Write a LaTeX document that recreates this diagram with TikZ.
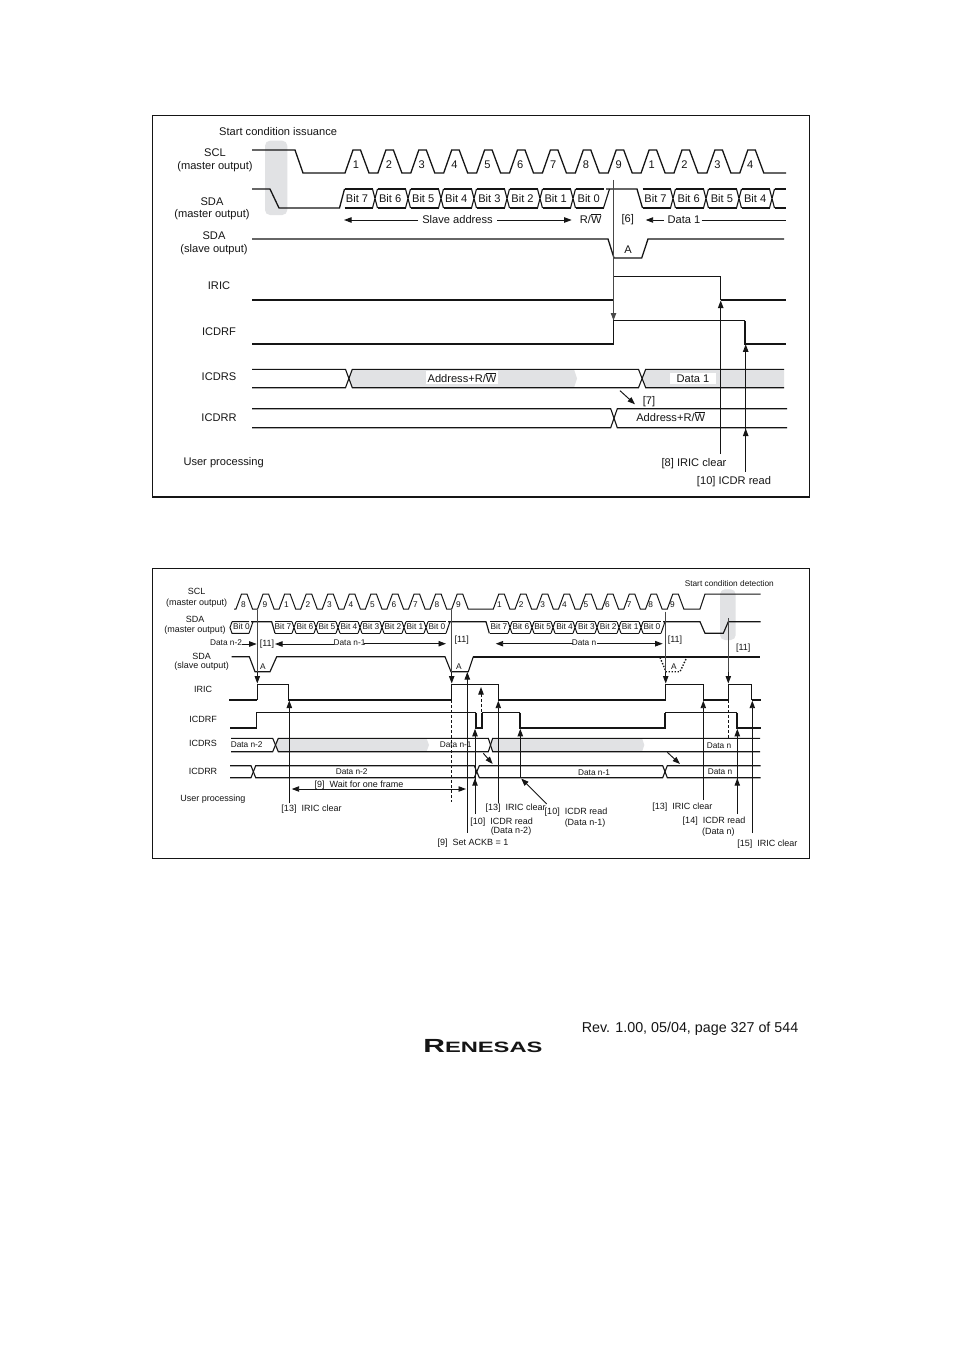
\documentclass[tikz,border=0pt]{standalone}
\usepackage{fontspec}
\setmainfont{Liberation Sans}
\usetikzlibrary{arrows.meta}
\definecolor{ink}{HTML}{151515}
\definecolor{shade}{HTML}{E1E2E4}
\definecolor{guideink}{HTML}{484848}
\newcount\lblno
\newcommand{\ovl}[1]{$\overline{\mbox{#1}}$}
\newcommand{\tl}[3]{\global\advance\lblno by 1 \node[toptext] (l\the\lblno) at ({#1},{#2+4.2}) {#3};}
\newcommand{\bl}[3]{\global\advance\lblno by 1 \node[bottext] (l\the\lblno) at ({#1},{#2+3.3}) {#3};}
\newcommand{\bs}[3]{\global\advance\lblno by 1 \node[botsmall] (l\the\lblno) at ({#1},{#2+3.2}) {#3};}
\tikzset{
  toptext/.style={anchor=base,inner sep=0pt,text=ink,font=\fontsize{11.1}{12}\selectfont},
  bottext/.style={anchor=base,inner sep=0pt,text=ink,font=\fontsize{9}{10}\selectfont},
  botsmall/.style={anchor=base,inner sep=0pt,text=ink,font=\fontsize{8.3}{10}\selectfont},
  whitebg/.style={fill=white,inner xsep=1.5pt,inner ysep=1.5pt},
  frame/.style={draw=ink,line width=1.1pt},
  sigthick/.style={draw=ink,line width=1.7pt,line join=miter},
  sigthin/.style={draw=ink,line width=1.15pt,line join=miter},
  sigbus/.style={draw=ink,line width=1.1pt},
  sigsmall/.style={draw=ink,line width=1pt,line join=miter},
  guide/.style={draw=guideink,line width=0.9pt},
  arr/.style={draw=ink,line width=0.95pt,-{Triangle[length=7.5pt,width=5.4pt]}},
  arrboth/.style={draw=ink,line width=0.95pt,{Triangle[length=7.5pt,width=5.4pt]}-{Triangle[length=7.5pt,width=5.4pt]}},
  shadefill/.style={fill=shade,draw=none},
}
\begin{document}
\begin{tikzpicture}[x=1pt,y=-1pt]
\useasboundingbox (0,0) rectangle (954,1351);
\fill[white] (0,0) rectangle (954,1351);

%% ---------- TOP PANEL ----------
\draw[frame] (152.5,115.5) rectangle (809.5,497);
\fill[shadefill,rounded corners=5pt] (265,140.7) rectangle (287.3,215);
\fill[shadefill] (349,378.5) -- (352.3,369.3) -- (574,369.3) -- (577,378.5) -- (574,387.7) -- (352.3,387.7) -- cycle;
\fill[shadefill] (642.5,378.5) -- (645.7,369.3) -- (784,369.3) -- (784,387.7) -- (645.7,387.7) -- cycle;

% SCL
\draw[sigthin,line width=1.3pt] (252,150) -- (295,150) -- (303,173) -- (345,173)
  foreach \i in {0,...,12} { -- ({345+32.9*\i},173) -- ({353+32.9*\i},150) -- ({360.5+32.9*\i},150) -- ({369+32.9*\i},173) }
  -- (786,173);
\foreach \i/\n in {0/1,1/2,2/3,3/4,4/5,5/6,6/7,7/8,8/9,9/1,10/2,11/3,12/4} {\tl{356+32.85*\i}{164}{\n}}

% SDA master
\draw[sigthin,line width=1.3pt] (252,189) -- (270,189) -- (279,208) -- (340,208) (339.5,208) -- (344.5,189);
\foreach \a/\b in {342/375,375/408,408/441,441/474,474/507,507/540,540/573,573/606,640/673,673/706,706/739,739/772} {
  \draw[sigbus] ({\a+2.5},189) -- ({\b-2.5},189) ({\a+2.5},208) -- ({\b-2.5},208);
}
\foreach \x in {375,408,441,474,507,540,573,673,706,739,772} {
  \draw[sigbus] ({\x-2.5},189) -- ({\x+2.5},208) ({\x-2.5},208) -- ({\x+2.5},189);
}
\draw[sigbus] (603.5,208) -- (609.5,189);
\draw[sigthin,line width=1.3pt] (606,189) -- (637,189) -- (642.5,208);
\draw[sigbus] (774.5,189) -- (785.5,189) (774.5,208) -- (785.5,208);
\foreach \i/\b in {0/7,1/6,2/5,3/4,4/3,5/2,6/1,7/0} {\tl{357+33.1*\i}{198.5}{Bit \b}}
\foreach \i/\b in {0/7,1/6,2/5,3/4} {\tl{655.5+33.2*\i}{198.5}{Bit \b}}

% SDA slave
\draw[sigthin,line width=1.3pt] (252,239) -- (608,239) -- (614,258) -- (641.7,258) -- (648,239) -- (784,239);
\tl{628}{249}{A}

% IRIC
\draw[sigthick] (252,300) -- (613.5,300);
\draw[sigthin] (613.5,300) -- (613.5,276.3) -- (720.7,276.3) -- (720.7,300);
\draw[sigthick] (720.7,300) -- (786,300);

% ICDRF
\draw[sigthick] (252,343.7) -- (613.5,343.7);
\draw[sigthin] (613.5,343.7) -- (613.5,320.7) -- (745,320.7);
\draw[sigthick] (745,320.7) -- (745,343.7) -- (786,343.7);

% ICDRS
\draw[sigbus] (252,369.3) -- (345.5,369.3) -- (352.3,387.7) -- (638.5,387.7) -- (645.7,369.3) -- (784,369.3);
\draw[sigbus] (252,387.7) -- (345.5,387.7) -- (352.3,369.3) -- (638.5,369.3) -- (645.7,387.7) -- (784,387.7);

% ICDRR
\draw[sigbus] (252,408.7) -- (610.7,408.7) -- (617.3,427.7) -- (787,427.7);
\draw[sigbus] (252,427.7) -- (610.7,427.7) -- (617.3,408.7) -- (787,408.7);

% arrows
\draw[guide] (613.5,180) -- (613.5,310);
\draw[arr,draw=guideink] (613.5,300) -- (613.5,320.5);
\draw[arr] (720.7,454) -- (720.7,300.5);
\draw[arr] (745.7,471.7) -- (745.7,344.3);
\draw[arr] (745.7,440) -- (745.7,428.5);
\draw[arr] (620,390.7) -- (635,404.3);

% slave address / data 1
\draw[arr] (418,220) -- (344,220);
\draw[arr] (497,220) -- (571.7,220);
\draw[arr] (664,220) -- (645.7,220);
\draw[sigsmall] (701.7,220) -- (786,220);

% texts
\global\advance\lblno by 1
\node[toptext,anchor=base west] (l\the\lblno) at (219,135.3) {Start condition issuance};
\tl{215}{152}{SCL}
\tl{215}{165}{(master output)}
\tl{212}{201}{SDA}
\tl{212}{213.5}{(master output)}
\tl{214}{235}{SDA}
\tl{214}{248}{(slave output)}
\tl{219}{285}{IRIC}
\tl{219}{331}{ICDRF}
\tl{219}{376}{ICDRS}
\tl{219}{417}{ICDRR}
\global\advance\lblno by 1
\node[toptext,anchor=base west] (l\the\lblno) at (183.3,465.3) {User processing};
\tl{457.5}{219}{Slave address}
\tl{590.7}{219}{R/\ovl{W}}
\tl{627.7}{218}{[6]}
\tl{684}{219}{Data 1}
\global\advance\lblno by 1
\node[toptext,whitebg] (l\the\lblno) at (462,382.2) {Address+R/\ovl{W}};
\global\advance\lblno by 1
\node[toptext,whitebg,inner xsep=7pt] (l\the\lblno) at (693,382.4) {Data 1};
\tl{649}{400}{[7]}
\tl{670.7}{417}{Address+R/\ovl{W}}
\tl{694}{462.5}{[8] IRIC clear}
\tl{734}{480}{[10] ICDR read}

%% ---------- BOTTOM PANEL ----------
\draw[frame] (152.5,568.5) rectangle (809.5,858.5);
\fill[shadefill,rounded corners=5pt] (720,589.3) rectangle (735.7,640);
\fill[shadefill] (276,745) -- (278.3,738.3) -- (426.5,738.3) -- (429,745) -- (426.5,751.7) -- (278.3,751.7) -- cycle;
\fill[shadefill] (490.5,745) -- (492.7,738.3) -- (642,738.3) -- (644.3,745) -- (642,751.7) -- (492.7,751.7) -- cycle;

% SCL
\draw[sigsmall] (234,609)
  foreach \i in {0,...,10} { -- ({236+21.57*\i},609) -- ({241.5+21.57*\i},594) -- ({247+21.57*\i},594) -- ({252.5+21.57*\i},609) }
  -- (493.3,609)
  foreach \i in {0,...,8} { -- ({493.3+21.75*\i},609) -- ({498.8+21.75*\i},594) -- ({504.3+21.75*\i},594) -- ({509.8+21.75*\i},609) }
  -- (700,609) -- (705,594) -- (760.7,594);
\foreach \i/\n in {0/8,1/9,2/1,3/2,4/3,5/4,6/5,7/6,8/7,9/8,10/9} {\bs{243.5+21.5*\i}{604}{\n}}
\foreach \i/\n in {0/1,1/2,2/3,3/4,4/5,5/6,6/7,7/8,8/9} {\bs{499.5+21.6*\i}{604}{\n}}

% SDA master
\draw[sigsmall] (232,621.7) -- (230,627.5) -- (232,633.3) -- (249,633.3) (232,621.7) -- (249,621.7);
\draw[sigsmall] (249,633.3) -- (253,621.7);
\draw[sigthin] (251,621.7) -- (271.7,621.7) -- (275,633.3);
\foreach \a/\b in {273/294,294/316,316/338,338/360,360/382,382/404,404/426,426/448,488/510,510/532,532/553,553/575,575/597,597/619,619/641,641/663} {
  \draw[sigsmall] ({\a+2},621.7) -- ({\b-2},621.7) ({\a+2},633.3) -- ({\b-2},633.3);
}
\foreach \x in {294,316,338,360,382,404,426,510,532,553,575,597,619,641} {
  \draw[sigsmall] ({\x-2},621.7) -- ({\x+2},633.3) ({\x-2},633.3) -- ({\x+2},621.7);
}
\draw[sigsmall] (446,633.3) -- (450,621.7);
\draw[sigthin] (448,621.7) -- (486,621.7) -- (489.3,633.3);
\draw[sigsmall] (661,633.3) -- (665,621.7);
\draw[sigthin] (663,621.7) -- (700,621.7) -- (705,633.3) -- (723.3,633.3) -- (728.3,621.7) -- (760.7,621.7);
\bs{241.5}{626}{Bit 0}
\foreach \i/\b in {0/7,1/6,2/5,3/4,4/3,5/2,6/1,7/0} {\bs{283+22*\i}{626}{Bit \b}}
\foreach \i/\b in {0/7,1/6,2/5,3/4,4/3,5/2,6/1,7/0} {\bs{499+21.85*\i}{626}{Bit \b}}

% SDA slave
\draw[sigthin] (231.7,656.7) -- (249.3,656.7) -- (255,671.7) -- (270,671.7) -- (276.7,656.7) -- (445,656.7) -- (451,671.7) -- (468.3,671.7) -- (473.3,656.7);
\draw[sigthick] (473.3,656.7) -- (760,656.7);
\draw[draw=ink,line width=1.4pt,dash pattern=on 1.4pt off 1.6pt] (660,657.5) -- (666,671.7) -- (680,671.7) -- (686.7,657.5);
\bs{263}{666}{A}
\bs{459}{666}{A}
\bs{674}{666}{A}

% IRIC
\draw[sigthick] (229.3,700) -- (257.3,700);
\draw[sigthin] (257.3,700) -- (257.3,684.3) -- (288.3,684.3) -- (288.3,700);
\draw[sigthick] (288.3,700) -- (451.7,700);
\draw[sigthin] (451.7,700) -- (451.7,684.3) -- (498.3,684.3) -- (498.3,700);
\draw[sigthick] (498.3,700) -- (665.7,700);
\draw[sigthin] (665.7,700) -- (665.7,684.3) -- (703.3,684.3) -- (703.3,700);
\draw[sigthick] (703.3,700) -- (728.3,700);
\draw[sigthin] (728.3,700) -- (728.3,684.3) -- (751.7,684.3) -- (751.7,700);
\draw[sigthick] (751.7,700) -- (760.7,700);

% ICDRF
\draw[sigthick] (230,728.3) -- (256.7,728.3);
\draw[sigthin] (256.7,728.3) -- (256.7,712.5) -- (476,712.5);
\draw[sigthick] (476,712.5) -- (476,728.3) -- (481.7,728.3) -- (481.7,712.5);
\draw[sigthin] (481.7,712.5) -- (520,712.5);
\draw[sigthick] (520,712.5) -- (520,728.3) -- (665,728.3) -- (665,712.5);
\draw[sigthin] (665,712.5) -- (737.3,712.5);
\draw[sigthick] (737.3,712.5) -- (737.3,728.3) -- (760.7,728.3);

% ICDRS
\draw[sigbus] (231,738.3) -- (272.7,738.3) -- (278.3,751.7) -- (488.3,751.7) -- (492.7,738.3) -- (760,738.3);
\draw[sigbus] (231,751.7) -- (272.7,751.7) -- (278.3,738.3) -- (488.3,738.3) -- (492.7,751.7) -- (760,751.7);

% ICDRR
\draw[sigbus] (230,765.7) -- (251,765.7) -- (255.7,777.7) -- (474.3,777.7) -- (479.3,765.7) -- (662.7,765.7) -- (667.3,777.7) -- (760.7,777.7);
\draw[sigbus] (230,777.7) -- (251,777.7) -- (255.7,765.7) -- (474.3,765.7) -- (479.3,777.7) -- (662.7,777.7) -- (667.3,765.7) -- (760.7,765.7);

% guides
\draw[guide] (257.3,610) -- (257.3,676);
\draw[arr] (257.3,672) -- (257.3,683.5);
\draw[guide] (451.7,610) -- (451.7,676);
\draw[arr] (451.7,672) -- (451.7,683.5);
\draw[sigsmall,densely dashed] (451.7,685) -- (451.7,801.7);
\draw[guide] (665.7,611.7) -- (665.7,676);
\draw[arr] (665.7,672) -- (665.7,683.5);
\draw[guide] (728.3,618) -- (728.3,676);
\draw[arr] (728.3,672) -- (728.3,683.5);
\draw[sigsmall,densely dashed] (728.3,685) -- (728.3,738);

% user arrows
\draw[arr] (289.3,803.3) -- (289.3,700.5);
\draw[arrboth] (291.7,789) -- (466,789);
\draw[arr] (467.3,832.7) -- (467.3,672);
\draw[arr,densely dashed] (481,712) -- (481,687);
\draw[arr] (475,814) -- (475,728.8);
\draw[arr] (475,788) -- (475,778.2);
\draw[arr] (498.3,803) -- (498.3,700.7);
\draw[arr] (520.3,777.7) -- (520.3,728.8);
\draw[arr] (546.7,804) -- (521.2,778.5);
\draw[arr] (483.3,753.3) -- (492.7,764);
\draw[arr] (667.3,752.3) -- (680,764);
\draw[arr] (703.3,800) -- (703.3,700.7);
\draw[arr] (737.3,814) -- (737.3,728.8);
\draw[arr] (737.3,788) -- (737.3,778.2);
\draw[arr] (752.3,833) -- (752.3,700.7);

% data spans
\draw[arr] (241.7,644) -- (256.7,644);
\draw[arr] (285,644) -- (275,644);
\draw[sigsmall] (285,644) -- (334,644);
\draw[arr] (364,643.7) -- (446,643.7);
\draw[arr] (573,643.7) -- (495.7,643.7);
\draw[arr] (597,643.7) -- (662.7,643.7);

% texts
\bl{196.7}{591}{SCL}
\bl{196.7}{602}{(master output)}
\bl{195}{619}{SDA}
\bl{195}{629}{(master output)}
\bs{226}{642}{Data n-2}
\bl{267}{643.5}{[11]}
\bs{349.5}{642}{Data n-1}
\bs{584}{642}{Data n}
\bl{461.7}{639.3}{[11]}
\bl{675}{639}{[11]}
\bl{743.3}{646.7}{[11]}
\bl{201.7}{656}{SDA}
\bl{201.7}{665}{(slave output)}
\bl{203}{689}{IRIC}
\bl{203}{719}{ICDRF}
\bl{203}{743}{ICDRS}
\bl{203}{771}{ICDRR}
\bl{213}{798}{User processing}
\bs{729.3}{583}{Start condition detection}
\bs{246.7}{744}{Data n-2}
\bs{455.7}{744}{Data n-1}
\bs{719}{745}{Data n}
\bs{351.7}{771}{Data n-2}
\bs{594}{772}{Data n-1}
\bs{720}{771}{Data n}
\bl{359}{784}{[9]\ \ Wait for one frame}
\bl{311.5}{808}{[13]\ \ IRIC clear}
\bl{473}{842}{[9]\ \ Set ACKB = 1}
\bl{501.7}{821}{[10]\ \ ICDR read}
\bl{511}{830.5}{(Data n-2)}
\bl{515.7}{807}{[13]\ \ IRIC clear}
\bl{576}{811}{[10]\ \ ICDR read}
\bl{585}{822}{(Data n-1)}
\bl{682.3}{806}{[13]\ \ IRIC clear}
\bl{714}{820}{[14]\ \ ICDR read}
\bl{718.3}{831}{(Data n)}
\bl{767.3}{843}{[15]\ \ IRIC clear}

%% ---------- FOOTER ----------
\node[anchor=base east,inner sep=0pt,text=ink,font=\fontsize{14.3}{16}\selectfont] (footer) at (798.5,1032) {Rev. 1.00, 05/04, page 327 of 544};
\node[anchor=base west,inner sep=0pt,text=ink,font=\fontsize{19}{20}\selectfont\bfseries,xscale=1.58,transform shape] (logo) at (423,1052) {R{\fontsize{15}{16}\selectfont ENESAS}};
\end{tikzpicture}
\end{document}
